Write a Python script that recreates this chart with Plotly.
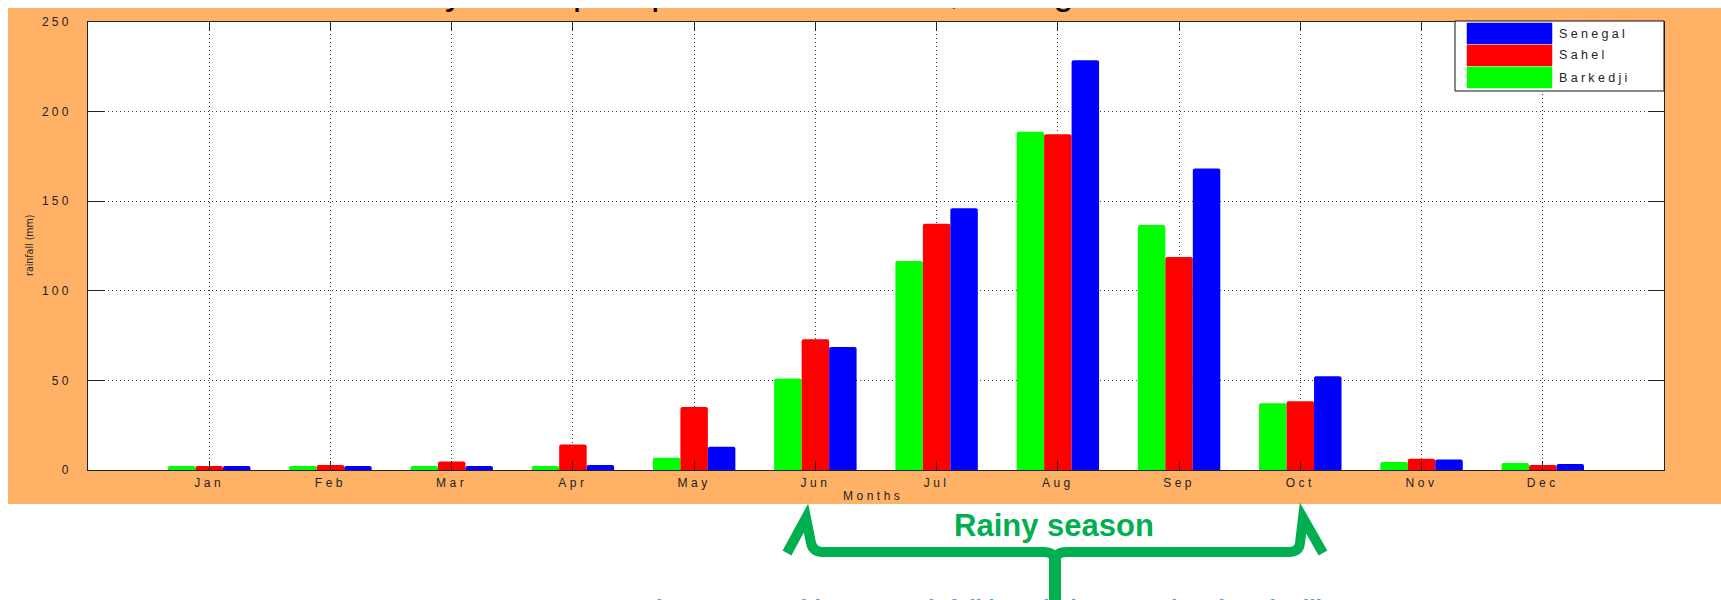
import plotly.graph_objects as go

# Monthly mean rainfall (mm)
months = ["Jan", "Feb", "Mar", "Apr", "May", "Jun", "Jul", "Aug", "Sep", "Oct", "Nov", "Dec"]
barkedji = [2.2, 2.2, 2.2, 2.2, 6.9, 51.0, 116.6, 188.8, 136.7, 37.2, 4.5, 3.9]
sahel = [2.2, 2.8, 4.8, 14.2, 35.2, 73.0, 137.4, 187.3, 118.8, 38.4, 6.3, 2.8]
senegal = [2.2, 2.2, 2.2, 2.8, 13.0, 68.7, 146.0, 228.7, 168.3, 52.3, 5.8, 3.4]
y_ticks = [0, 50, 100, 150, 200, 250]

series_names = ["Barkedji", "Sahel", "Senegal"]
series_values = [barkedji, sahel, senegal]
series_colors = ["#00ff00", "#ff0000", "#0000ff"]

# Page and plot-area geometry (pixels)
W, H = 1721, 600
L, R, T, B = 88, 1664, 22, 470

FONT = "Liberation Sans, Arial, Helvetica, sans-serif"
INK = "#222222"
ORANGE = "#ffb266"
BRACE = "#00b050"


def px_x(x):
    return (x - L) / (R - L)


def px_y(y):
    return (B - y) / (B - T)


def pt(x, y):
    return f"{px_x(x):.5f},{px_y(y):.5f}"


def spaced(text, gap=3.5):
    return f'<span style="letter-spacing:{gap}px">{text}</span>'


month_pos = list(range(1, len(months) + 1))

fig = go.Figure()
for name, vals, color in zip(series_names, series_values, series_colors):
    fig.add_bar(
        x=month_pos, y=vals, name=name,
        marker=dict(color=color, line_width=0, cornerradius=2),
    )

axis_common = dict(
    showline=True, linecolor=INK, linewidth=1, mirror="ticks",
    ticks="inside", tickcolor=INK, tickwidth=1,
    showgrid=True, gridcolor="#3a3a3a", gridwidth=1, griddash="1px,3px",
    zeroline=False, tickfont=dict(family=FONT, size=12, color=INK),
)

fig.update_layout(
    width=W, height=H,
    margin=dict(l=L, r=W - R, t=T, b=H - B, pad=0),
    paper_bgcolor="white", plot_bgcolor="white",
    barmode="group", bargap=0.32, bargroupgap=0,
    showlegend=False,
    xaxis=dict(
        range=[0, 13], tickmode="array", tickvals=month_pos,
        ticktext=[spaced(m) for m in months], ticklen=9,
        ticklabelstandoff=2, **axis_common,
    ),
    yaxis=dict(
        range=[0, 250], tickmode="array", tickvals=y_ticks,
        ticktext=[spaced(str(v), 3.2) for v in y_ticks], ticklen=16,
        ticklabelstandoff=13, **axis_common,
    ),
)

shapes = []
# orange figure panel and white axes area
shapes.append(dict(type="rect", xref="paper", yref="paper", layer="below",
                   x0=px_x(8), x1=px_x(W + 2), y0=px_y(504), y1=px_y(8),
                   fillcolor=ORANGE, line_width=0))
shapes.append(dict(type="rect", xref="paper", yref="paper", layer="below",
                   x0=0, x1=1, y0=0, y1=1, fillcolor="white", line_width=0))

# legend box with wide colour swatches
lg_x0, lg_x1, lg_y0, lg_y1 = 1455, 1664, 21, 91
shapes.append(dict(type="rect", xref="paper", yref="paper", layer="above",
                   x0=px_x(lg_x0), x1=px_x(lg_x1), y0=px_y(lg_y1), y1=px_y(lg_y0),
                   fillcolor="white", line=dict(color="#111111", width=1)))
annotations = []
legend_rows = list(zip(series_names, series_colors))[::-1]
for i, (name, color) in enumerate(legend_rows):
    top = 23 + i * 22
    shapes.append(dict(type="rect", xref="paper", yref="paper", layer="above",
                       x0=px_x(1467), x1=px_x(1552), y0=px_y(top + 21), y1=px_y(top),
                       fillcolor=color, line=dict(color=color, width=0.5)))
    annotations.append(dict(xref="paper", yref="paper", x=px_x(1557), y=px_y(top + 10.5),
                            xanchor="left", yanchor="middle", showarrow=False,
                            text=spaced(name, 3.3),
                            font=dict(family=FONT, size=12.5, color=INK)))

# brace marking the rainy season (June to October)
left_half = (f"M{pt(787, 553)} L{pt(806, 518)} L{pt(811, 543)} Q{pt(813, 552)} {pt(823, 552)} "
             f"L{pt(1043, 552)} Q{pt(1055, 552)} {pt(1055, 561)}")
right_half = (f"M{pt(1055, 561)} Q{pt(1055, 552)} {pt(1067, 552)} L{pt(1289, 552)} "
              f"Q{pt(1299, 552)} {pt(1300, 543)} L{pt(1303, 518)} L{pt(1323, 553)}")
stem = f"M{pt(1055, 556)} L{pt(1055, 612)}"
for p, w in [(left_half, 10), (right_half, 10), (stem, 12)]:
    shapes.append(dict(type="path", xref="paper", yref="paper", layer="above",
                       path=p, line=dict(color=BRACE, width=w)))

annotations += [
    dict(xref="paper", yref="paper", x=px_x(1054), y=px_y(525),
         xanchor="center", yanchor="middle", showarrow=False,
         text="<b>Rainy season</b>",
         font=dict(family=FONT, size=31, color=BRACE)),
    dict(xref="paper", yref="paper", x=px_x(873), y=px_y(496),
         xanchor="center", yanchor="middle", showarrow=False,
         text=spaced("Months"), font=dict(family=FONT, size=12, color=INK)),
    dict(xref="paper", yref="paper", x=px_x(29), y=px_y(246),
         xanchor="center", yanchor="middle", showarrow=False, textangle=-90,
         text="rainfall (mm)",
         font=dict(family="Liberation Sans Narrow, DejaVu Sans Condensed, Arial Narrow, sans-serif",
                   size=10.5, color=INK)),
    # chart title, running off the top of the page
    dict(xref="paper", yref="paper", x=px_x(335), y=px_y(14),
         xanchor="left", yanchor="bottom", showarrow=False,
         text="Monthly mean precipitation over Sahel, Senegal",
         font=dict(family=FONT, size=36, color="black")),
    # white page margin above the orange panel
    dict(xref="paper", yref="paper", x=px_x(-5), y=px_y(0),
         xanchor="left", yanchor="top", showarrow=False,
         text="\u00a0", width=W + 20, height=8, bgcolor="white",
         borderpad=0, borderwidth=0, font=dict(size=2)),
    # figure caption, running off the bottom of the page
    dict(xref="paper", yref="paper", x=px_x(640), y=px_y(593.5),
         xanchor="left", yanchor="top", showarrow=False,
         text="<b>Figure 2: Monthly mean rainfall in Sahel, Senegal and Barkedji</b>",
         font=dict(family=FONT, size=23, color="#5b9bd5")),
]

fig.update_layout(shapes=shapes, annotations=annotations)
fig.write_html("out.html")
